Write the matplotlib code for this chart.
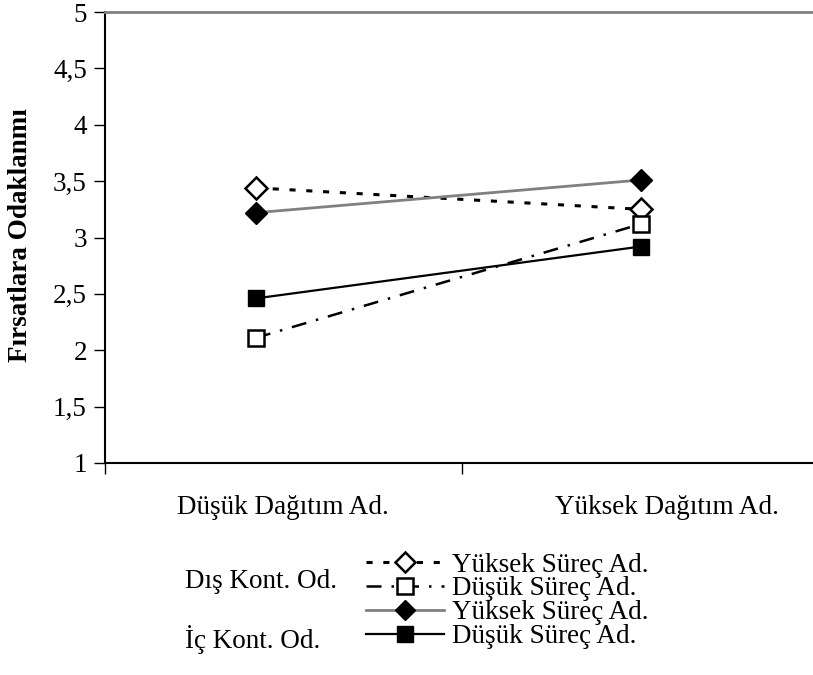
import numpy as np
import matplotlib
matplotlib.use("Agg")
import matplotlib.pyplot as plt
from matplotlib.ticker import FuncFormatter

plt.rcParams['font.family'] = ['Liberation Serif', 'DejaVu Serif']

# veri
kategoriler = ["Düşük Dağıtım Ad.", "Yüksek Dağıtım Ad."]
dis_yuksek = [3.44, 3.25]
dis_dusuk = [2.11, 3.12]
ic_yuksek = [3.22, 3.51]
ic_dusuk = [2.46, 2.92]
seri_etiket = ["Yüksek Süreç Ad.", "Düşük Süreç Ad.", "Yüksek Süreç Ad.", "Düşük Süreç Ad."]
grup_etiket = ["Dış Kont. Od.", "İç Kont. Od."]
y_ticks = [1, 1.5, 2, 2.5, 3, 3.5, 4, 4.5, 5]

fig = plt.figure(figsize=(8.13, 6.75), dpi=100)
ax = fig.add_axes([105/813, 1-463/675, 1-105/813, (463-12)/675])

x = np.arange(len(kategoriler))
fs = 19.5

l1, = ax.plot(x, dis_yuksek, color='black', lw=2.2, linestyle=(0, (2, 3.5)),
              marker='D', markersize=11, markerfacecolor='white', markeredgecolor='black',
              markeredgewidth=1.8)
l2, = ax.plot(x, dis_dusuk, color='black', lw=1.8, linestyle=(0, (6, 4, 1, 4)),
              marker='s', markersize=12, markerfacecolor='white', markeredgecolor='black',
              markeredgewidth=1.8)
l3, = ax.plot(x, ic_yuksek, color='#808080', lw=2, linestyle='-',
              marker='D', markersize=11, markerfacecolor='black', markeredgecolor='black')
l4, = ax.plot(x, ic_dusuk, color='black', lw=1.6, linestyle='-',
              marker='s', markersize=12, markerfacecolor='black', markeredgecolor='black')

ax.set_ylim(1, 5)
ax.set_xlim(-0.392, 1.447)
ax.set_yticks(y_ticks)
ax.yaxis.set_major_formatter(FuncFormatter(lambda v, p: ('%g' % v).replace('.', ',')))
ax.tick_params(axis='y', direction='out', length=8, width=1, labelsize=fs, pad=5)

# kategori ayırıcı çizgiler ve etiketler
ax.set_xticks([-0.392, 0.535])
ax.set_xticklabels([])
ax.tick_params(axis='x', which='major', direction='out', length=8, width=1)
ax.set_xticks([0.071, 1.068], minor=True)
ax.set_xticklabels(kategoriler, minor=True)
ax.tick_params(axis='x', which='minor', length=0, labelsize=fs, pad=23)

ax.spines['right'].set_visible(False)
ax.spines['top'].set_color('#808080')
ax.spines['top'].set_linewidth(2)
ax.spines['left'].set_linewidth(1.5)
ax.spines['bottom'].set_linewidth(1.5)

ax.set_ylabel("Fırsatlara Odaklanmı", fontsize=fs, fontweight='bold')
ax.yaxis.set_label_coords(-0.102, 0.505)

leg = fig.legend([l1, l2, l3, l4], seri_etiket, loc='upper left',
                 bbox_to_anchor=(352/813, 1-539/675), frameon=False, fontsize=fs,
                 handlelength=2.9, handletextpad=0.3, labelspacing=-0.04,
                 borderpad=0, numpoints=1, markerscale=0.95)

fig.text(185/813, 1-582/675, grup_etiket[0], fontsize=fs, va='center', ha='left')
fig.text(185/813, 1-640/675, grup_etiket[1], fontsize=fs, va='center', ha='left')

fig.savefig("out.png", dpi=100)
